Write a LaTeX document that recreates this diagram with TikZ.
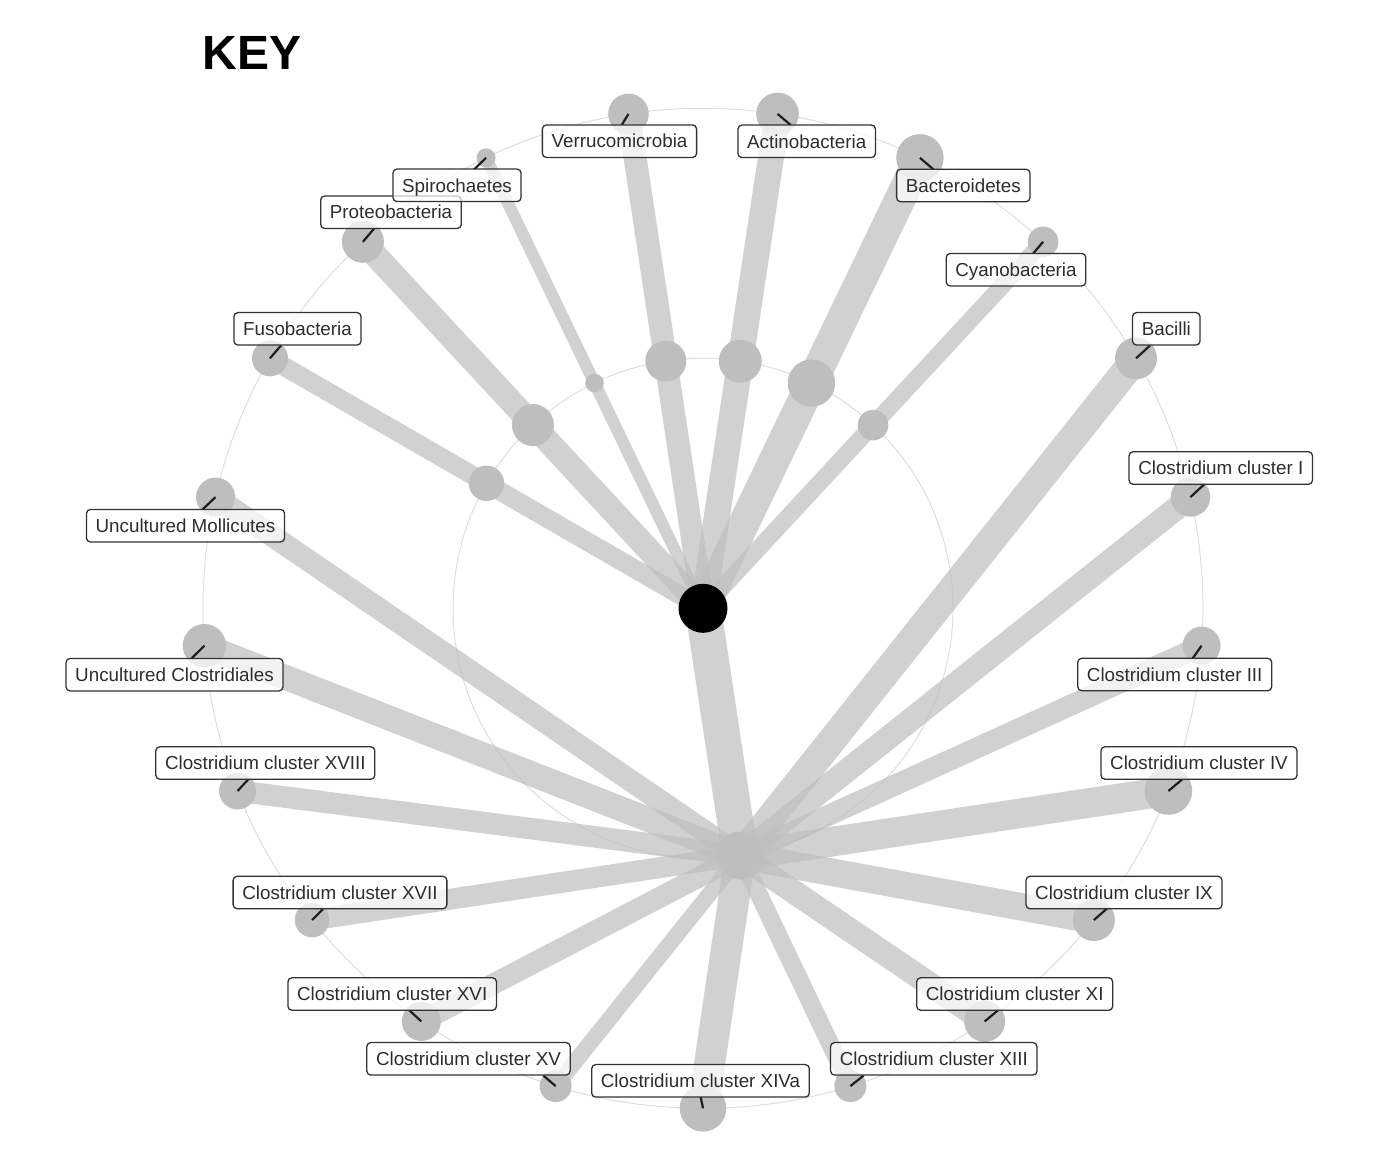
\documentclass[tikz,border=0pt]{standalone}
\usepackage{fontspec}
\setmainfont{Liberation Sans}
\definecolor{nodegray}{RGB}{190,190,190}
\definecolor{guidegray}{RGB}{222,222,222}
\definecolor{labtext}{RGB}{45,45,45}
\definecolor{labline}{RGB}{50,50,50}
\definecolor{leadcol}{RGB}{30,30,30}
\pgfdeclarelayer{edgelayer}
\pgfdeclarelayer{dotlayer}
\pgfdeclarelayer{seglayer}
\pgfsetlayers{edgelayer,dotlayer,seglayer,main}
\begin{document}
\begin{tikzpicture}[x=0.5pt,y=-0.5pt,
  taxdot/.style={circle, fill=nodegray, draw=none, inner sep=0pt, minimum size=#1},
  branch/.style={draw=nodegray, draw opacity=0.7, line width=#1},
  guide/.style={draw=guidegray, line width=0.5pt},
  taxlabel/.style={draw=labline, line width=0.65pt, fill=white, fill opacity=0.72,
    text opacity=1, text=labtext, rounded corners=2pt,
    font=\fontsize{9.4pt}{11pt}\selectfont, inner xsep=4.6pt, inner ysep=4.75pt,
    text height=6.75pt, text depth=0pt},
  lead/.style={draw=leadcol, line width=1.1pt}]
\useasboundingbox (0,0) rectangle (1400,1152);

% coordinates of leaves (outer ring) and inner nodes
\foreach \k/\nm in {0/xiva,1/xv,2/xvi,3/xvii,4/xviii,5/unclos,6/unmoll,7/fuso,8/proteo,9/spiro,10/verruco,11/actino,12/bactero,13/cyano,14/bacilli,15/cli,16/cliii,17/cliv,18/clix,19/clxi,20/clxiii}{
  \coordinate (p\nm) at ({703+500*sin(180+\k*360/21)},{608.3-500*cos(180+\k*360/21)});
}
\foreach \k/\nm in {7/fuso,8/proteo,9/spiro,10/verruco,11/actino,12/bactero,13/cyano,20.5/firm}{
  \coordinate (q\nm) at ({703+250*sin(180+\k*360/21)},{608.3-250*cos(180+\k*360/21)});
}

\begin{pgfonlayer}{dotlayer}
\node[circle, fill=black, inner sep=0pt, minimum size=24.5pt] (root) at (703,608.3) {};
% inner nodes
\node[taxdot=17.7pt] (ifuso) at (qfuso) {};
\node[taxdot=21pt] (iproteo) at (qproteo) {};
\node[taxdot=9.3pt] (ispiro) at (qspiro) {};
\node[taxdot=20.5pt] (iverruco) at (qverruco) {};
\node[taxdot=21.5pt] (iactino) at (qactino) {};
\node[taxdot=23.7pt] (ibactero) at (qbactero) {};
\node[taxdot=15.3pt] (icyano) at (qcyano) {};
\node[taxdot=24pt] (ifirm) at (qfirm) {};
% leaves
\node[taxdot=23.3pt] (xiva) at (pxiva) {};
\node[taxdot=16pt] (xv) at (pxv) {};
\node[taxdot=19.5pt] (xvi) at (pxvi) {};
\node[taxdot=17.3pt] (xvii) at (pxvii) {};
\node[taxdot=18.5pt] (xviii) at (pxviii) {};
\node[taxdot=21.7pt] (unclos) at (punclos) {};
\node[taxdot=19.5pt] (unmoll) at (punmoll) {};
\node[taxdot=18pt] (fuso) at (pfuso) {};
\node[taxdot=21pt] (proteo) at (pproteo) {};
\node[taxdot=9.5pt] (spiro) at (pspiro) {};
\node[taxdot=20.3pt] (verruco) at (pverruco) {};
\node[taxdot=21.3pt] (actino) at (pactino) {};
\node[taxdot=23.7pt] (bactero) at (pbactero) {};
\node[taxdot=15.3pt] (cyano) at (pcyano) {};
\node[taxdot=21pt] (bacilli) at (pbacilli) {};
\node[taxdot=19.7pt] (cli) at (pcli) {};
\node[taxdot=19pt] (cliii) at (pcliii) {};
\node[taxdot=23.8pt] (cliv) at (pcliv) {};
\node[taxdot=21pt] (clix) at (pclix) {};
\node[taxdot=20.5pt] (clxi) at (pclxi) {};
\node[taxdot=16pt] (clxiii) at (pclxiii) {};
\end{pgfonlayer}

% labels
\node[taxlabel] (Lproteo) at (391,212.2) {Proteobacteria};
\node[taxlabel] (Lspiro) at (457,185.3) {Spirochaetes};
\node[taxlabel] (Lverruco) at (619.5,141.2) {Verrucomicrobia};
\node[taxlabel] (Lactino) at (806.7,141.3) {Actinobacteria};
\node[taxlabel] (Lbactero) at (963.3,185.5) {Bacteroidetes};
\node[taxlabel] (Lcyano) at (1016,269.7) {Cyanobacteria};
\node[taxlabel] (Lbacilli) at (1166.3,328.8) {Bacilli};
\node[taxlabel] (Lfuso) at (297.5,328.8) {Fusobacteria};
\node[taxlabel] (Lunmoll) at (185.5,525.7) {Uncultured Mollicutes};
\node[taxlabel] (Lunclos) at (174.5,674.7) {Uncultured Clostridiales};
\node[taxlabel] (Lcli) at (1220.8,468) {Clostridium cluster I};
\node[taxlabel] (Lcliii) at (1174.7,674.5) {Clostridium cluster III};
\node[taxlabel] (Lcliv) at (1199,763) {Clostridium cluster IV};
\node[taxlabel] (Lxviii) at (265.3,763) {Clostridium cluster XVIII};
\node[taxlabel] (Lxvii) at (340,892.5) {Clostridium cluster XVII};
\node[taxlabel] (Lclix) at (1124,892.5) {Clostridium cluster IX};
\node[taxlabel] (Lxvi) at (392.2,994) {Clostridium cluster XVI};
\node[taxlabel] (Lclxi) at (1014.7,994) {Clostridium cluster XI};
\node[taxlabel] (Lxv) at (468.5,1058.8) {Clostridium cluster XV};
\node[taxlabel] (Lclxiii) at (933.8,1058.8) {Clostridium cluster XIII};
\node[taxlabel] (Lxiva) at (700.5,1080.8) {Clostridium cluster XIVa};

\node[anchor=base west, inner sep=0pt, font=\fontsize{24pt}{28pt}\selectfont\bfseries] (key) at (202.5,69.3) {KEY};

% leader segment ends (on the label borders)
\coordinate (Sverruco) at (621.7,125);
\coordinate (Sspiro) at (474,169.5);
\coordinate (Sproteo) at (374,228.7);
\coordinate (Sactino) at (790.7,125);
\coordinate (Sbactero) at (933.3,169.3);
\coordinate (Scyano) at (1033.3,253.3);
\coordinate (Sfuso) at (281,345.5);
\coordinate (Sunmoll) at (202.7,509.3);
\coordinate (Sunclos) at (191.7,658.3);
\coordinate (Sbacilli) at (1150,345.5);
\coordinate (Scli) at (1204.3,484.3);
\coordinate (Scliii) at (1192.7,658.3);
\coordinate (Scliv) at (1182.3,779.3);
\coordinate (Sxviii) at (248.3,779.3);
\coordinate (Sxvii) at (323,909);
\coordinate (Sxvi) at (409,1010);
\coordinate (Sxv) at (543.3,1075.5);
\coordinate (Sxiva) at (700.7,1097);
\coordinate (Sclxiii) at (863.7,1075.5);
\coordinate (Sclxi) at (998.3,1010);
\coordinate (Sclix) at (1107,908.5);

\begin{pgfonlayer}{seglayer}
\foreach \nm in {proteo,spiro,verruco,actino,bactero,cyano,bacilli,fuso,unmoll,unclos,cli,cliii,cliv,xviii,xvii,clix,xvi,clxi,xv,clxiii,xiva}{
  \draw[lead] (\nm.center) -- (S\nm);
}
\end{pgfonlayer}

% guides and branches
\begin{pgfonlayer}{edgelayer}
\draw[guide] (root.center) circle[radius=125pt];
\draw[guide] (root.center) circle[radius=250pt];
\draw[branch=9.4pt] (root.center) -- (ifuso.center);
\draw[branch=9.4pt] (ifuso.center) -- (fuso.center);
\draw[branch=12pt] (root.center) -- (iproteo.center);
\draw[branch=12pt] (iproteo.center) -- (proteo.center);
\draw[branch=6pt] (root.center) -- (ispiro.center);
\draw[branch=6pt] (ispiro.center) -- (spiro.center);
\draw[branch=11.5pt] (root.center) -- (iverruco.center);
\draw[branch=11.5pt] (iverruco.center) -- (verruco.center);
\draw[branch=13pt] (root.center) -- (iactino.center);
\draw[branch=13pt] (iactino.center) -- (actino.center);
\draw[branch=15.5pt] (root.center) -- (ibactero.center);
\draw[branch=15.5pt] (ibactero.center) -- (bactero.center);
\draw[branch=8.5pt] (root.center) -- (icyano.center);
\draw[branch=8.5pt] (icyano.center) -- (cyano.center);
\draw[branch=18pt] (root.center) -- (ifirm.center);
\draw[branch=15.5pt] (ifirm.center) -- (xiva.center);
\draw[branch=8pt] (ifirm.center) -- (xv.center);
\draw[branch=10.5pt] (ifirm.center) -- (xvi.center);
\draw[branch=10.5pt] (ifirm.center) -- (xvii.center);
\draw[branch=10.8pt] (ifirm.center) -- (xviii.center);
\draw[branch=12.5pt] (ifirm.center) -- (unclos.center);
\draw[branch=11pt] (ifirm.center) -- (unmoll.center);
\draw[branch=14.3pt] (ifirm.center) -- (bacilli.center);
\draw[branch=11.8pt] (ifirm.center) -- (cli.center);
\draw[branch=10.5pt] (ifirm.center) -- (cliii.center);
\draw[branch=14.8pt] (ifirm.center) -- (cliv.center);
\draw[branch=13.8pt] (ifirm.center) -- (clix.center);
\draw[branch=12pt] (ifirm.center) -- (clxi.center);
\draw[branch=9pt] (ifirm.center) -- (clxiii.center);
\end{pgfonlayer}
\end{tikzpicture}
\end{document}
